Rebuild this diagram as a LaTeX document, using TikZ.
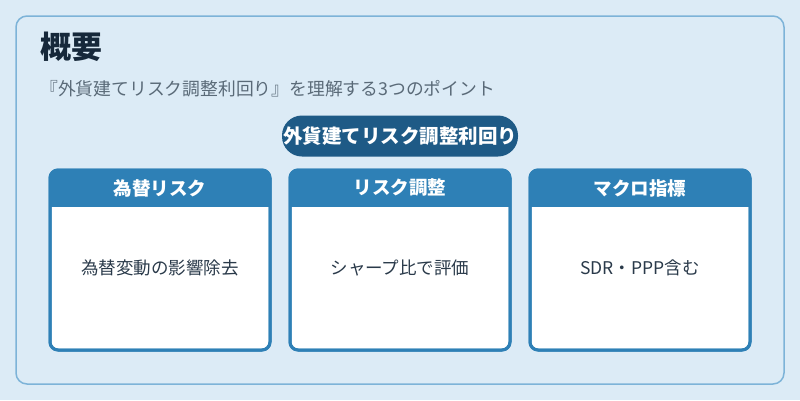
\documentclass[tikz,border=0pt]{standalone}
\usepackage{fontspec}
\setmainfont{Noto Sans CJK JP}
\definecolor{bgpale}{HTML}{DCEBF6}
\definecolor{frameline}{HTML}{7DB3D8}
\definecolor{titleink}{HTML}{16283A}
\definecolor{subink}{HTML}{5A6A78}
\definecolor{pillblue}{HTML}{1E5A86}
\definecolor{cardblue}{HTML}{2E80B6}
\definecolor{bodyink}{HTML}{2A3A4A}
\begin{document}
\begin{tikzpicture}[x=1pt,y=-1pt,line join=round,
    cardbody/.style={fill=white,draw=cardblue,line width=3pt,rounded corners=8pt},
    headtext/.style={text=white,font=\fontsize{18.5}{20}\selectfont\bfseries},
    bodytext/.style={text=bodyink,font=\fontsize{17.5}{19}\selectfont}]
  \fill[bgpale] (0,0) rectangle (800,400);
  \useasboundingbox (0,0) rectangle (800,400);
  \draw[frameline,line width=1.5pt,rounded corners=11pt] (16,16) rectangle (784,384);
  % title
  \node[anchor=west,text=titleink,font=\fontsize{31}{34}\selectfont\bfseries,inner sep=0pt] (title) at (40,47) {概要};
  \node[anchor=west,text=subink,font=\fontsize{17.8}{20}\selectfont,inner sep=0pt] (subtitle) at (40,89) {『外貨建てリスク調整利回り』を理解する3つのポイント};
  % pill
  \node[fill=pillblue,text=white,rounded corners=20pt,minimum height=41pt,inner xsep=1pt,
        font=\fontsize{19.5}{22}\selectfont\bfseries] (pill) at (400,136) {外貨建てリスク調整利回り};
  % cards
  \foreach \cx/\head/\body [count=\i] in {160/為替リスク/為替変動の影響除去,400/リスク調整/シャープ比で評価,640/マクロ指標/SDR・PPP含む}{
    \draw[cardbody] (\cx-110,170) rectangle (\cx+110,350);
    \begin{scope}
      \clip[rounded corners=8pt] (\cx-110,170) rectangle (\cx+110,350);
      \fill[cardblue] (\cx-112,168) rectangle (\cx+112,207);
    \end{scope}
    \draw[cardblue,line width=3pt,rounded corners=8pt] (\cx-110,170) rectangle (\cx+110,350);
    \node[headtext] (head\i) at (\cx,188) {\head};
    \node[bodytext] (body\i) at (\cx,268) {\body};
  }
\end{tikzpicture}
\end{document}
